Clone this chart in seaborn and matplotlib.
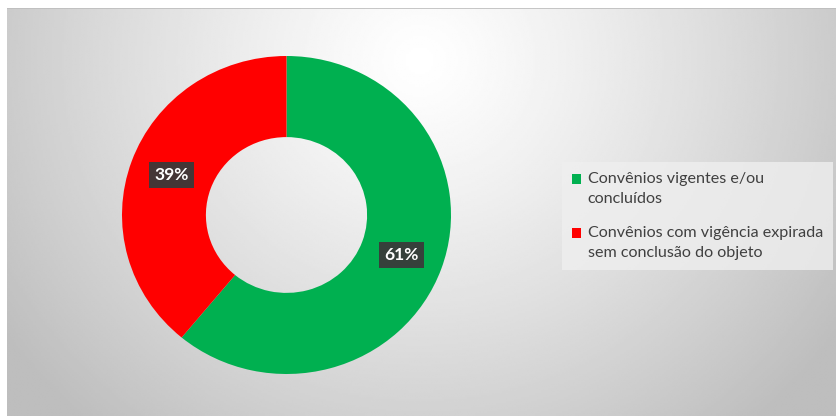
import numpy as np
import matplotlib
matplotlib.use("Agg")
import matplotlib.pyplot as plt
import seaborn as sns
from matplotlib.patches import Patch, Rectangle
from matplotlib.legend_handler import HandlerPatch

sns.set_style("white")
plt.rcParams['font.family'] = ['Lato', 'DejaVu Sans']

categories = ["Convênios vigentes e/ou\nconcluídos",
              "Convênios com vigência expirada\nsem conclusão do objeto"]
values = [61, 39]
colors = ["#00B050", "#FF0000"]

W, H = 837, 416
fig = plt.figure(figsize=(W / 100, H / 100), dpi=100)
fig.patch.set_facecolor("white")

# background gradient panel
bg = fig.add_axes([7 / W, 0, 1 - 7 / W, (H - 8) / H])
xs = np.linspace(7, W, 400)
ys = np.linspace(8, H, 200)
X, Y = np.meshgrid(xs, ys)
d = np.sqrt(((X - 420) / 420) ** 2 + ((Y - 60) / 400) ** 2)
val = np.clip(255 - 52 * d ** 1.2, 190, 255) / 255.0
bg.imshow(val, cmap="gray", vmin=0, vmax=1, aspect="auto",
          extent=[0, 1, 0, 1], interpolation="bilinear")
bg.plot([0, 1], [1, 1], color="#bdbdbd", lw=1.2, transform=bg.transAxes)
bg.set_axis_off()

# donut (slightly elliptical like the reference)
cx, cy, RX, RY = 286.5, 215, 164.5, 159
ax = fig.add_axes([(cx - RX) / W, (H - cy - RY) / H, 2 * RX / W, 2 * RY / H])
ax.set_facecolor("none")
wedges, texts, autotexts = ax.pie(
    values, colors=colors, startangle=90, counterclock=False,
    wedgeprops=dict(width=0.51, edgecolor="none"),
    autopct=lambda p: f"{p:.0f}%", pctdistance=0.745,
    textprops=dict(color="white", fontsize=12.5, fontweight="bold"))
for t in autotexts:
    t.set_bbox(dict(boxstyle="square,pad=0.3", facecolor="#3a3a3a",
                    edgecolor="none", alpha=0.95))
ax.set_aspect("auto")
ax.set_xlim(-1, 1)
ax.set_ylim(-1, 1)


def first_line_square(legend, orig_handle, xdescent, ydescent, width, height, fontsize):
    return Rectangle((-xdescent, -ydescent + 7.3), width, height)


handles = [Patch(facecolor=c, edgecolor="none") for c in colors]
leg = fig.legend(handles, categories, loc="center left",
                 bbox_to_anchor=(554 / W, 1 - 216 / H),
                 frameon=True, fontsize=11.6, labelcolor="#404040",
                 handlelength=0.6, handleheight=0.6, handletextpad=0.4,
                 labelspacing=1.2, borderpad=0.6, fancybox=False,
                 handler_map={Patch: HandlerPatch(patch_func=first_line_square)})
for t in leg.get_texts():
    t.set_linespacing(1.6)
leg.get_frame().set_facecolor("#efefef")
leg.get_frame().set_edgecolor("none")
leg.get_frame().set_alpha(0.8)

fig.savefig("out.png", dpi=100)
